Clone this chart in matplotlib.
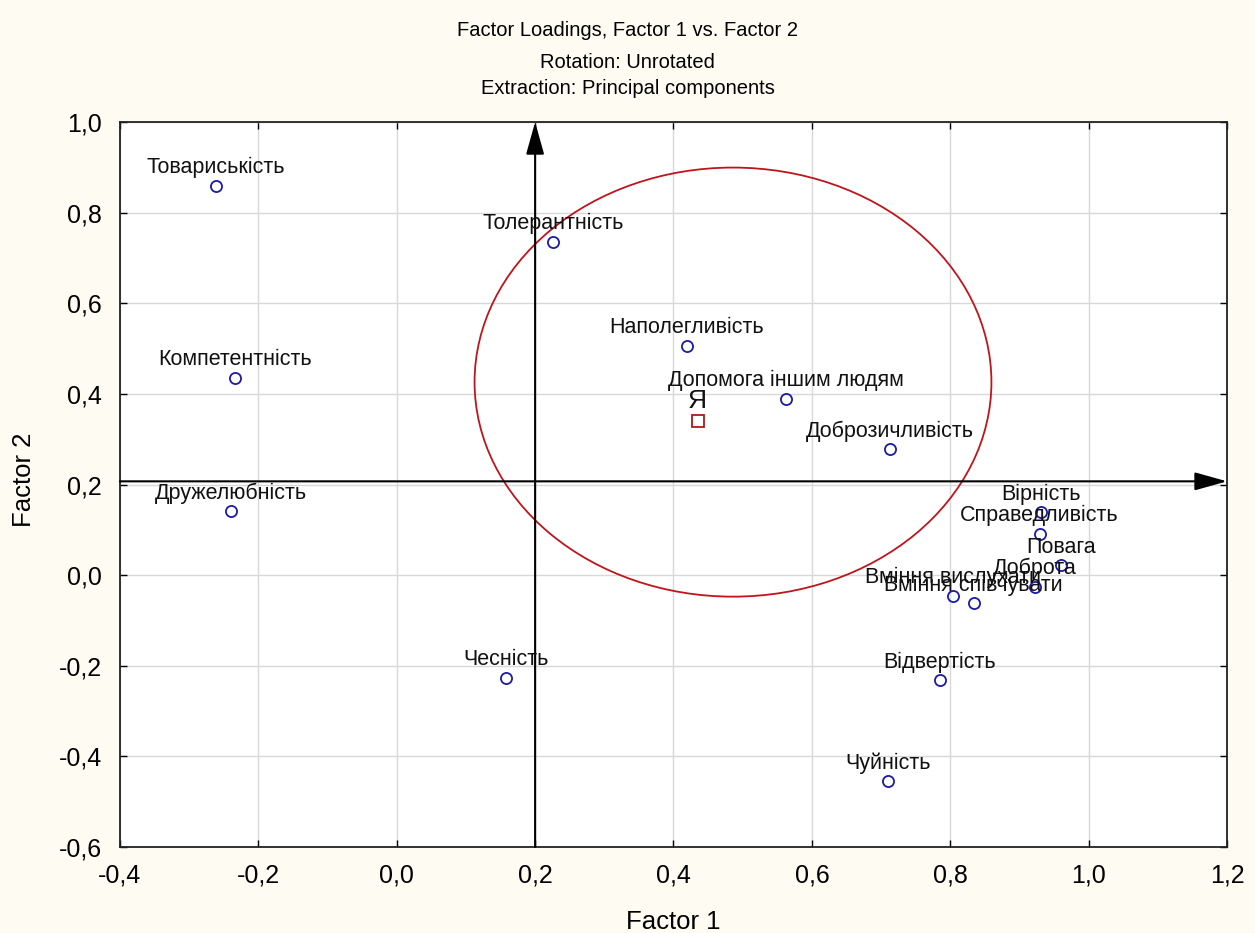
import matplotlib
matplotlib.use("Agg")
import matplotlib.pyplot as plt
from matplotlib.patches import Ellipse
import numpy as np

# ---- data ----
labels = ["Товариськість", "Толерантність", "Наполегливість", "Компетентність",
          "Допомога іншим людям", "Доброзичливість", "Дружелюбність", "Вірність",
          "Справедливість", "Повага", "Доброта", "Вміння вислухати",
          "Вміння співчувати", "Чесність", "Відвертість", "Чуйність"]
factor1 = [-0.261, 0.226, 0.419, -0.234, 0.562, 0.713, -0.240, 0.931,
           0.929, 0.960, 0.922, 0.804, 0.834, 0.158, 0.785, 0.710]
factor2 = [0.859, 0.735, 0.506, 0.435, 0.389, 0.278, 0.141, 0.139,
           0.091, 0.022, -0.026, -0.046, -0.062, -0.227, -0.232, -0.455]

self_label = "Я"
self_f1 = 0.435
self_f2 = 0.340

ellipse_center = (0.486, 0.426)
ellipse_w = 0.747
ellipse_h = 0.947

axis_cross_x = 0.2
axis_cross_y = 0.207

xticks = [-0.4, -0.2, 0.0, 0.2, 0.4, 0.6, 0.8, 1.0, 1.2]
yticks = [-0.6, -0.4, -0.2, 0.0, 0.2, 0.4, 0.6, 0.8, 1.0]

plt.rcParams['font.family'] = ['Liberation Sans', 'DejaVu Sans']

bg = '#fdfbf2'
fig = plt.figure(figsize=(12.55, 9.33), dpi=100, facecolor=bg)
ax = fig.add_axes([0.0956, 0.0922, 0.8821, 0.777])
ax.set_facecolor('white')

ax.set_xlim(-0.4, 1.2)
ax.set_ylim(-0.6, 1.0)
ax.set_xticks(xticks)
ax.set_yticks(yticks)
fmt = lambda v: f"{v:.1f}".replace('.', ',')
ax.set_xticklabels([fmt(v) for v in xticks])
ax.set_yticklabels([fmt(v) for v in yticks])
ax.tick_params(direction='in', length=5, width=1, labelsize=18, colors='black',
               top=True, right=True)
ax.tick_params(axis='x', pad=12)
ax.tick_params(axis='y', pad=13)
ax.grid(True, color='#d8d8d8', linewidth=1.0)
ax.set_axisbelow(True)
for s in ax.spines.values():
    s.set_linewidth(1.3)
    s.set_color('#222222')

# ellipse
ax.add_patch(Ellipse(ellipse_center, ellipse_w, ellipse_h, fill=False,
                     edgecolor='#c0141c', linewidth=1.3, zorder=2))

# arrows (cross axes)
astyle = '-|>,head_length=1.0,head_width=0.28'
ax.annotate("", xy=(axis_cross_x, 1.0), xytext=(axis_cross_x, -0.6),
            arrowprops=dict(arrowstyle=astyle, mutation_scale=20, color='black', lw=1.5,
                            shrinkA=0, shrinkB=0), annotation_clip=False, zorder=3)
ax.annotate("", xy=(1.2, axis_cross_y), xytext=(-0.4, axis_cross_y),
            arrowprops=dict(arrowstyle=astyle, mutation_scale=20, color='black', lw=1.5,
                            shrinkA=0, shrinkB=0), annotation_clip=False, zorder=3)

# points
ax.plot(factor1, factor2, linestyle='none', marker='o', markersize=8,
        markerfacecolor='none', markeredgecolor='#1a1aa8', markeredgewidth=1.3, zorder=4)
for lab, x, y in zip(labels, factor1, factor2):
    ax.annotate(lab, (x, y), xytext=(0, 5.5), textcoords='offset points',
                ha='center', va='bottom', fontsize=15.5, color='#111111', zorder=5)

ax.plot([self_f1], [self_f2], linestyle='none', marker='s', markersize=9,
        markerfacecolor='none', markeredgecolor='#b01818', markeredgewidth=1.3, zorder=4)
ax.annotate(self_label, (self_f1, self_f2), xytext=(0, 6), textcoords='offset points',
            ha='center', va='bottom', fontsize=19, color='#111111', zorder=5)

ax.set_xlabel("Factor 1", fontsize=18.5, labelpad=4)
ax.set_ylabel("Factor 2", fontsize=18.5, labelpad=4)
ax.xaxis.set_label_coords(0.5, -(922 - 847) / 725, transform=ax.transAxes)
ax.yaxis.set_label_coords(-(120 - 24) / 1107, (847 - 480) / 725, transform=ax.transAxes)
ax.xaxis.label.set_va('center')
ax.yaxis.label.set_va('center')

fig.text(0.5, 1 - 30/933, "Factor Loadings, Factor 1 vs. Factor 2", ha='center', va='center',
         fontsize=14.5)
fig.text(0.5, 1 - 62/933, "Rotation: Unrotated", ha='center', va='center',
         fontsize=14.5)
fig.text(0.5, 1 - 88/933, "Extraction: Principal components", ha='center', va='center',
         fontsize=14.5)

fig.savefig("out.png", dpi=100, facecolor=bg)
